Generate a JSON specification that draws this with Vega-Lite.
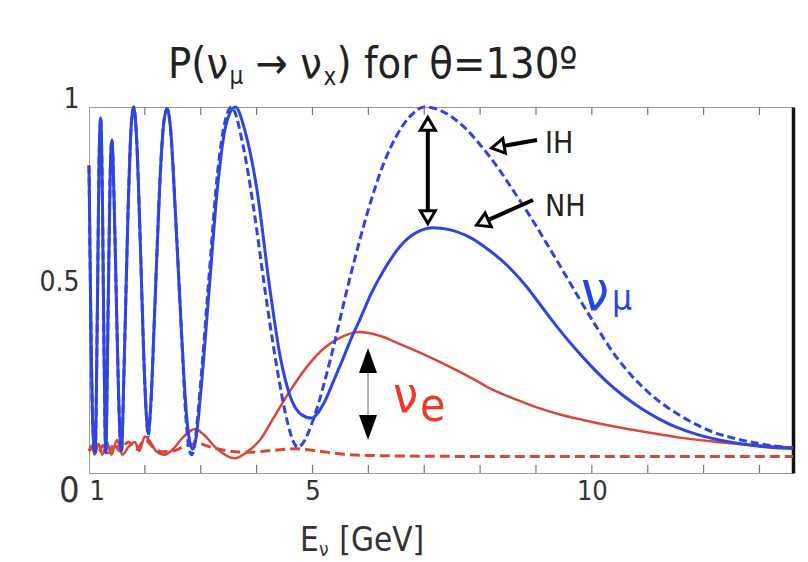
{
  "$schema": "https://vega.github.io/schema/vega-lite/v6.json",
  "width": 704,
  "height": 366,
  "autosize": {"type": "none"},
  "padding": {"left": 89, "top": 107, "right": 15, "bottom": 89},
  "background": "white",
  "config": {"view": {"stroke": null}, "font": "DejaVu Sans Condensed, DejaVu Sans", "text": {"font": "DejaVu Sans Condensed, DejaVu Sans"}},
  "resolve": {"axis": {"x": "independent", "y": "independent"}},
  "datasets": {
    "curves": [
      {"series":"IH_e","energy":1.0,"prob":0.06},{"series":"IH_e","energy":1.08,"prob":0.07},{"series":"IH_e","energy":1.16,"prob":0.055},{"series":"IH_e","energy":1.25,"prob":0.075},{"series":"IH_e","energy":1.35,"prob":0.055},{"series":"IH_e","energy":1.45,"prob":0.08},{"series":"IH_e","energy":1.55,"prob":0.06},{"series":"IH_e","energy":1.7,"prob":0.085},{"series":"IH_e","energy":1.85,"prob":0.065},{"series":"IH_e","energy":2.0,"prob":0.09},{"series":"IH_e","energy":2.15,"prob":0.07},{"series":"IH_e","energy":2.3,"prob":0.058},{"series":"IH_e","energy":2.5,"prob":0.06},{"series":"IH_e","energy":2.75,"prob":0.075},{"series":"IH_e","energy":2.95,"prob":0.08},{"series":"IH_e","energy":3.2,"prob":0.07},{"series":"IH_e","energy":3.5,"prob":0.06},{"series":"IH_e","energy":3.9,"prob":0.057},{"series":"IH_e","energy":4.3,"prob":0.062},{"series":"IH_e","energy":4.7,"prob":0.066},{"series":"IH_e","energy":5.1,"prob":0.06},{"series":"IH_e","energy":5.5,"prob":0.052},{"series":"IH_e","energy":6.0,"prob":0.048},{"series":"IH_e","energy":7.0,"prob":0.046},{"series":"IH_e","energy":8.5,"prob":0.045},{"series":"IH_e","energy":10.0,"prob":0.045},{"series":"IH_e","energy":12.0,"prob":0.045},{"series":"IH_e","energy":13.6,"prob":0.045},

      {"series":"NH_e","energy":1.0,"prob":0.06},{"series":"NH_e","energy":1.05,"prob":0.075},{"series":"NH_e","energy":1.1,"prob":0.05},{"series":"NH_e","energy":1.17,"prob":0.08},{"series":"NH_e","energy":1.24,"prob":0.05},{"series":"NH_e","energy":1.32,"prob":0.085},{"series":"NH_e","energy":1.4,"prob":0.05},{"series":"NH_e","energy":1.5,"prob":0.09},{"series":"NH_e","energy":1.6,"prob":0.05},{"series":"NH_e","energy":1.7,"prob":0.07},{"series":"NH_e","energy":1.82,"prob":0.085},{"series":"NH_e","energy":1.9,"prob":0.06},{"series":"NH_e","energy":2.0,"prob":0.1},{"series":"NH_e","energy":2.1,"prob":0.085},{"series":"NH_e","energy":2.2,"prob":0.06},{"series":"NH_e","energy":2.35,"prob":0.05},{"series":"NH_e","energy":2.5,"prob":0.065},{"series":"NH_e","energy":2.7,"prob":0.1},{"series":"NH_e","energy":2.9,"prob":0.12},{"series":"NH_e","energy":3.05,"prob":0.105},{"series":"NH_e","energy":3.3,"prob":0.065},{"series":"NH_e","energy":3.6,"prob":0.04},{"series":"NH_e","energy":3.85,"prob":0.06},{"series":"NH_e","energy":4.06,"prob":0.09},{"series":"NH_e","energy":4.3,"prob":0.15},{"series":"NH_e","energy":4.6,"prob":0.225},{"series":"NH_e","energy":4.9,"prob":0.29},{"series":"NH_e","energy":5.2,"prob":0.34},{"series":"NH_e","energy":5.5,"prob":0.37},{"series":"NH_e","energy":5.85,"prob":0.385},{"series":"NH_e","energy":6.2,"prob":0.375},{"series":"NH_e","energy":6.6,"prob":0.35},{"series":"NH_e","energy":7.05,"prob":0.32},{"series":"NH_e","energy":7.46,"prob":0.29},{"series":"NH_e","energy":7.9,"prob":0.255},{"series":"NH_e","energy":8.23,"prob":0.227},{"series":"NH_e","energy":8.66,"prob":0.2},{"series":"NH_e","energy":9.0,"prob":0.18},{"series":"NH_e","energy":9.43,"prob":0.16},{"series":"NH_e","energy":9.84,"prob":0.145},{"series":"NH_e","energy":10.4,"prob":0.127},{"series":"NH_e","energy":11.04,"prob":0.11},{"series":"NH_e","energy":11.6,"prob":0.096},{"series":"NH_e","energy":12.23,"prob":0.085},{"series":"NH_e","energy":12.9,"prob":0.076},{"series":"NH_e","energy":13.6,"prob":0.07},

      {"series":"IH_mu","energy":1.0,"prob":0.84},{"series":"IH_mu","energy":1.03,"prob":0.45},{"series":"IH_mu","energy":1.07,"prob":0.12},{"series":"IH_mu","energy":1.11,"prob":0.055},{"series":"IH_mu","energy":1.15,"prob":0.45},{"series":"IH_mu","energy":1.18,"prob":0.85},{"series":"IH_mu","energy":1.21,"prob":0.97},{"series":"IH_mu","energy":1.24,"prob":0.75},{"series":"IH_mu","energy":1.27,"prob":0.32},{"series":"IH_mu","energy":1.3,"prob":0.055},{"series":"IH_mu","energy":1.34,"prob":0.42},{"series":"IH_mu","energy":1.38,"prob":0.82},{"series":"IH_mu","energy":1.41,"prob":0.91},{"series":"IH_mu","energy":1.45,"prob":0.74},{"series":"IH_mu","energy":1.5,"prob":0.4},{"series":"IH_mu","energy":1.55,"prob":0.12},{"series":"IH_mu","energy":1.58,"prob":0.06},{"series":"IH_mu","energy":1.63,"prob":0.3},{"series":"IH_mu","energy":1.7,"prob":0.72},{"series":"IH_mu","energy":1.76,"prob":0.96},{"series":"IH_mu","energy":1.8,"prob":1.0},{"series":"IH_mu","energy":1.85,"prob":0.92},{"series":"IH_mu","energy":1.92,"prob":0.62},{"series":"IH_mu","energy":1.98,"prob":0.32},{"series":"IH_mu","energy":2.03,"prob":0.15},{"series":"IH_mu","energy":2.06,"prob":0.1},{"series":"IH_mu","energy":2.1,"prob":0.17},{"series":"IH_mu","energy":2.18,"prob":0.46},{"series":"IH_mu","energy":2.27,"prob":0.8},{"series":"IH_mu","energy":2.34,"prob":0.96},{"series":"IH_mu","energy":2.4,"prob":0.995},{"series":"IH_mu","energy":2.46,"prob":0.94},{"series":"IH_mu","energy":2.55,"prob":0.7},{"series":"IH_mu","energy":2.65,"prob":0.4},{"series":"IH_mu","energy":2.74,"prob":0.14},{"series":"IH_mu","energy":2.8,"prob":0.06},{"series":"IH_mu","energy":2.84,"prob":0.05},{"series":"IH_mu","energy":2.9,"prob":0.09},{"series":"IH_mu","energy":3.0,"prob":0.25},{"series":"IH_mu","energy":3.15,"prob":0.54},{"series":"IH_mu","energy":3.3,"prob":0.82},{"series":"IH_mu","energy":3.45,"prob":0.97},{"series":"IH_mu","energy":3.55,"prob":1.0},{"series":"IH_mu","energy":3.75,"prob":0.9},{"series":"IH_mu","energy":3.95,"prob":0.72},{"series":"IH_mu","energy":4.15,"prob":0.5},{"series":"IH_mu","energy":4.35,"prob":0.3},{"series":"IH_mu","energy":4.55,"prob":0.14},{"series":"IH_mu","energy":4.66,"prob":0.085},{"series":"IH_mu","energy":4.74,"prob":0.07},{"series":"IH_mu","energy":4.82,"prob":0.08},{"series":"IH_mu","energy":5.0,"prob":0.14},{"series":"IH_mu","energy":5.2,"prob":0.24},{"series":"IH_mu","energy":5.4,"prob":0.36},{"series":"IH_mu","energy":5.6,"prob":0.49},{"series":"IH_mu","energy":5.8,"prob":0.61},{"series":"IH_mu","energy":6.0,"prob":0.72},{"series":"IH_mu","energy":6.26,"prob":0.84},{"series":"IH_mu","energy":6.5,"prob":0.92},{"series":"IH_mu","energy":6.75,"prob":0.975},{"series":"IH_mu","energy":7.0,"prob":1.0},{"series":"IH_mu","energy":7.25,"prob":0.993},{"series":"IH_mu","energy":7.5,"prob":0.972},{"series":"IH_mu","energy":7.75,"prob":0.94},{"series":"IH_mu","energy":8.0,"prob":0.897},{"series":"IH_mu","energy":8.3,"prob":0.838},{"series":"IH_mu","energy":8.6,"prob":0.77},{"series":"IH_mu","energy":8.9,"prob":0.7},{"series":"IH_mu","energy":9.2,"prob":0.625},{"series":"IH_mu","energy":9.5,"prob":0.548},{"series":"IH_mu","energy":9.8,"prob":0.47},{"series":"IH_mu","energy":10.1,"prob":0.395},{"series":"IH_mu","energy":10.4,"prob":0.325},{"series":"IH_mu","energy":10.7,"prob":0.268},{"series":"IH_mu","energy":11.0,"prob":0.222},{"series":"IH_mu","energy":11.3,"prob":0.185},{"series":"IH_mu","energy":11.6,"prob":0.155},{"series":"IH_mu","energy":11.9,"prob":0.13},{"series":"IH_mu","energy":12.2,"prob":0.11},{"series":"IH_mu","energy":12.6,"prob":0.093},{"series":"IH_mu","energy":13.0,"prob":0.08},{"series":"IH_mu","energy":13.3,"prob":0.073},{"series":"IH_mu","energy":13.6,"prob":0.068},

      {"series":"NH_mu","energy":1.0,"prob":0.84},{"series":"NH_mu","energy":1.03,"prob":0.45},{"series":"NH_mu","energy":1.07,"prob":0.12},{"series":"NH_mu","energy":1.11,"prob":0.055},{"series":"NH_mu","energy":1.15,"prob":0.45},{"series":"NH_mu","energy":1.18,"prob":0.85},{"series":"NH_mu","energy":1.21,"prob":0.97},{"series":"NH_mu","energy":1.24,"prob":0.75},{"series":"NH_mu","energy":1.27,"prob":0.32},{"series":"NH_mu","energy":1.3,"prob":0.055},{"series":"NH_mu","energy":1.34,"prob":0.42},{"series":"NH_mu","energy":1.38,"prob":0.82},{"series":"NH_mu","energy":1.41,"prob":0.91},{"series":"NH_mu","energy":1.45,"prob":0.74},{"series":"NH_mu","energy":1.5,"prob":0.4},{"series":"NH_mu","energy":1.55,"prob":0.12},{"series":"NH_mu","energy":1.58,"prob":0.06},{"series":"NH_mu","energy":1.63,"prob":0.3},{"series":"NH_mu","energy":1.7,"prob":0.72},{"series":"NH_mu","energy":1.76,"prob":0.96},{"series":"NH_mu","energy":1.8,"prob":1.0},{"series":"NH_mu","energy":1.85,"prob":0.92},{"series":"NH_mu","energy":1.92,"prob":0.62},{"series":"NH_mu","energy":1.98,"prob":0.32},{"series":"NH_mu","energy":2.03,"prob":0.15},{"series":"NH_mu","energy":2.06,"prob":0.11},{"series":"NH_mu","energy":2.1,"prob":0.17},{"series":"NH_mu","energy":2.18,"prob":0.46},{"series":"NH_mu","energy":2.27,"prob":0.8},{"series":"NH_mu","energy":2.34,"prob":0.96},{"series":"NH_mu","energy":2.4,"prob":0.995},{"series":"NH_mu","energy":2.46,"prob":0.94},{"series":"NH_mu","energy":2.55,"prob":0.7},{"series":"NH_mu","energy":2.65,"prob":0.4},{"series":"NH_mu","energy":2.75,"prob":0.15},{"series":"NH_mu","energy":2.82,"prob":0.075},{"series":"NH_mu","energy":2.86,"prob":0.065},{"series":"NH_mu","energy":2.92,"prob":0.1},{"series":"NH_mu","energy":3.0,"prob":0.22},{"series":"NH_mu","energy":3.15,"prob":0.5},{"series":"NH_mu","energy":3.3,"prob":0.78},{"series":"NH_mu","energy":3.45,"prob":0.95},{"series":"NH_mu","energy":3.62,"prob":1.0},{"series":"NH_mu","energy":3.8,"prob":0.93},{"series":"NH_mu","energy":4.0,"prob":0.78},{"series":"NH_mu","energy":4.24,"prob":0.5},{"series":"NH_mu","energy":4.42,"prob":0.32},{"series":"NH_mu","energy":4.6,"prob":0.21},{"series":"NH_mu","energy":4.8,"prob":0.16},{"series":"NH_mu","energy":4.98,"prob":0.15},{"series":"NH_mu","energy":5.2,"prob":0.19},{"series":"NH_mu","energy":5.4,"prob":0.26},{"series":"NH_mu","energy":5.54,"prob":0.31},{"series":"NH_mu","energy":5.7,"prob":0.37},{"series":"NH_mu","energy":5.85,"prob":0.42},{"series":"NH_mu","energy":6.05,"prob":0.49},{"series":"NH_mu","energy":6.3,"prob":0.56},{"series":"NH_mu","energy":6.6,"prob":0.625},{"series":"NH_mu","energy":6.9,"prob":0.66},{"series":"NH_mu","energy":7.15,"prob":0.67},{"series":"NH_mu","energy":7.45,"prob":0.665},{"series":"NH_mu","energy":7.8,"prob":0.645},{"series":"NH_mu","energy":8.15,"prob":0.61},{"series":"NH_mu","energy":8.5,"prob":0.565},{"series":"NH_mu","energy":8.8,"prob":0.515},{"series":"NH_mu","energy":9.1,"prob":0.455},{"series":"NH_mu","energy":9.4,"prob":0.395},{"series":"NH_mu","energy":9.7,"prob":0.34},{"series":"NH_mu","energy":10.0,"prob":0.29},{"series":"NH_mu","energy":10.3,"prob":0.245},{"series":"NH_mu","energy":10.6,"prob":0.207},{"series":"NH_mu","energy":10.9,"prob":0.175},{"series":"NH_mu","energy":11.2,"prob":0.148},{"series":"NH_mu","energy":11.5,"prob":0.126},{"series":"NH_mu","energy":11.85,"prob":0.107},{"series":"NH_mu","energy":12.2,"prob":0.093},{"series":"NH_mu","energy":12.6,"prob":0.081},{"series":"NH_mu","energy":13.0,"prob":0.073},{"series":"NH_mu","energy":13.3,"prob":0.069},{"series":"NH_mu","energy":13.6,"prob":0.067}
    ]
  },
  "layer": [
    {
      "data": {"name": "curves"},
      "transform": [{"filter": "datum.series === 'IH_e'"}],
      "mark": {"type": "line", "color": "#d6483a", "strokeWidth": 3, "strokeDash": [10, 5], "interpolate": "monotone"},
      "encoding": {
        "x": {"field": "energy", "type": "quantitative", "scale": {"domain": [1, 13.6], "nice": false, "zero": false}, "axis": null},
        "y": {"field": "prob", "type": "quantitative", "scale": {"domain": [0, 1], "nice": false}, "axis": null}
      }
    },
    {
      "data": {"name": "curves"},
      "transform": [{"filter": "datum.series === 'NH_e'"}],
      "mark": {"type": "line", "color": "#d6483a", "strokeWidth": 2.5, "interpolate": "monotone"},
      "encoding": {
        "x": {"field": "energy", "type": "quantitative", "scale": {"domain": [1, 13.6], "nice": false, "zero": false}, "axis": null},
        "y": {"field": "prob", "type": "quantitative", "scale": {"domain": [0, 1], "nice": false}, "axis": null}
      }
    },
    {
      "data": {"name": "curves"},
      "transform": [{"filter": "datum.series === 'IH_mu'"}],
      "mark": {"type": "line", "color": "#2f45e0", "strokeWidth": 3, "strokeDash": [8, 4], "interpolate": "monotone"},
      "encoding": {
        "x": {"field": "energy", "type": "quantitative", "scale": {"domain": [1, 13.6], "nice": false, "zero": false},
          "axis": {"orient": "top", "values": [1, 13], "ticks": false, "labels": false, "title": null, "grid": false, "domainColor": "#999"}},
        "y": {"field": "prob", "type": "quantitative", "scale": {"domain": [0, 1], "nice": false},
          "axis": {"orient": "right", "ticks": false, "labels": false, "title": null, "grid": false, "domainColor": "#111", "domainWidth": 3.5}}
      }
    },
    {
      "data": {"name": "curves"},
      "transform": [{"filter": "datum.series === 'NH_mu'"}],
      "mark": {"type": "line", "color": "#2f45e0", "strokeWidth": 3, "interpolate": "monotone"},
      "encoding": {
        "x": {"field": "energy", "type": "quantitative", "scale": {"domain": [1, 13.6], "nice": false, "zero": false},
          "axis": {"orient": "bottom", "values": [1, 5, 10], "ticks": false, "title": null, "grid": false, "domainColor": "#999", "labelFontSize": 27, "labelColor": "#333", "labelPadding": 5, "labelFont": "DejaVu Sans Condensed, DejaVu Sans"}},
        "y": {"field": "prob", "type": "quantitative", "scale": {"domain": [0, 1], "nice": false},
          "axis": {"orient": "left", "values": [0, 0.5, 1], "format": "~g", "ticks": false, "title": null, "grid": false, "domainColor": "#999", "labelColor": "#333", "labelPadding": 10, "labelFont": "DejaVu Sans Condensed, DejaVu Sans",
            "labelFontSize": {"condition": {"test": "datum.value === 0", "value": 36}, "value": 28},
            "labelBaseline": {"condition": {"test": "datum.value === 0", "value": "top"}, "value": "alphabetic"}}}
      }
    },
    {
      "data": {"values": [
        {"gev": 2, "lo": 0, "hi": 0.022}, {"gev": 3, "lo": 0, "hi": 0.022}, {"gev": 4, "lo": 0, "hi": 0.022}, {"gev": 5, "lo": 0, "hi": 0.022}, {"gev": 6, "lo": 0, "hi": 0.022}, {"gev": 7, "lo": 0, "hi": 0.022}, {"gev": 8, "lo": 0, "hi": 0.022}, {"gev": 9, "lo": 0, "hi": 0.022}, {"gev": 10, "lo": 0, "hi": 0.022}, {"gev": 11, "lo": 0, "hi": 0.022}, {"gev": 12, "lo": 0, "hi": 0.022}, {"gev": 13, "lo": 0, "hi": 0.022},
        {"gev": 2, "lo": 0.978, "hi": 1}, {"gev": 3, "lo": 0.978, "hi": 1}, {"gev": 4, "lo": 0.978, "hi": 1}, {"gev": 5, "lo": 0.978, "hi": 1}, {"gev": 6, "lo": 0.978, "hi": 1}, {"gev": 7, "lo": 0.978, "hi": 1}, {"gev": 8, "lo": 0.978, "hi": 1}, {"gev": 9, "lo": 0.978, "hi": 1}, {"gev": 10, "lo": 0.978, "hi": 1}, {"gev": 11, "lo": 0.978, "hi": 1}, {"gev": 12, "lo": 0.978, "hi": 1}, {"gev": 13, "lo": 0.978, "hi": 1}
      ]},
      "mark": {"type": "rule", "color": "#777", "strokeWidth": 1.2},
      "encoding": {
        "x": {"field": "gev", "type": "quantitative", "scale": {"domain": [1, 13.6], "nice": false, "zero": false}, "axis": null},
        "y": {"field": "lo", "type": "quantitative", "scale": {"domain": [0, 1], "nice": false}, "axis": null},
        "y2": {"field": "hi"}
      }
    },
    {
      "data": {"values": [{"e1": 7.064, "p1": 0.937, "p2": 0.716}]},
      "mark": {"type": "rule", "color": "black", "strokeWidth": 4},
      "encoding": {
        "x": {"field": "e1", "type": "quantitative", "scale": {"domain": [1, 13.6], "nice": false, "zero": false}, "axis": null},
        "y": {"field": "p1", "type": "quantitative", "scale": {"domain": [0, 1], "nice": false}, "axis": null},
        "y2": {"field": "p2"}
      }
    },
    {
      "data": {"values": [{"e1": 9.018, "p1": 0.9098, "e2": 8.422, "p2": 0.8937}, {"e1": 8.947, "p1": 0.7459, "e2": 8.139, "p2": 0.691}]},
      "mark": {"type": "rule", "color": "black", "strokeWidth": 4},
      "encoding": {
        "x": {"field": "e1", "type": "quantitative", "scale": {"domain": [1, 13.6], "nice": false, "zero": false}, "axis": null},
        "y": {"field": "p1", "type": "quantitative", "scale": {"domain": [0, 1], "nice": false}, "axis": null},
        "x2": {"field": "e2"},
        "y2": {"field": "p2"}
      }
    },
    {
      "data": {"values": [{"e": 7.064, "p": 0.951}]},
      "mark": {"type": "point", "shape": "M0,-1L1,0.7L-1,0.7Z", "size": 225, "filled": true, "fill": "white", "stroke": "black", "strokeWidth": 3, "opacity": 1},
      "encoding": {
        "x": {"field": "e", "type": "quantitative", "scale": {"domain": [1, 13.6], "nice": false, "zero": false}, "axis": null},
        "y": {"field": "p", "type": "quantitative", "scale": {"domain": [0, 1], "nice": false}, "axis": null}
      }
    },
    {
      "data": {"values": [{"e": 7.064, "p": 0.702}]},
      "mark": {"type": "point", "shape": "M0,1L1,-0.7L-1,-0.7Z", "size": 225, "filled": true, "fill": "white", "stroke": "black", "strokeWidth": 3, "opacity": 1},
      "encoding": {
        "x": {"field": "e", "type": "quantitative", "scale": {"domain": [1, 13.6], "nice": false, "zero": false}, "axis": null},
        "y": {"field": "p", "type": "quantitative", "scale": {"domain": [0, 1], "nice": false}, "axis": null}
      }
    },
    {
      "data": {"values": [{"e": 8.337, "p": 0.8913}]},
      "mark": {"type": "point", "shape": "M0,-1L1,0.7L-1,0.7Z", "size": 225, "angle": 260, "filled": true, "fill": "white", "stroke": "black", "strokeWidth": 3, "opacity": 1},
      "encoding": {
        "x": {"field": "e", "type": "quantitative", "scale": {"domain": [1, 13.6], "nice": false, "zero": false}, "axis": null},
        "y": {"field": "p", "type": "quantitative", "scale": {"domain": [0, 1], "nice": false}, "axis": null}
      }
    },
    {
      "data": {"values": [{"e": 8.059, "p": 0.6855}]},
      "mark": {"type": "point", "shape": "M0,-1L1,0.7L-1,0.7Z", "size": 225, "angle": 246, "filled": true, "fill": "white", "stroke": "black", "strokeWidth": 3, "opacity": 1},
      "encoding": {
        "x": {"field": "e", "type": "quantitative", "scale": {"domain": [1, 13.6], "nice": false, "zero": false}, "axis": null},
        "y": {"field": "p", "type": "quantitative", "scale": {"domain": [0, 1], "nice": false}, "axis": null}
      }
    },
    {
      "data": {"values": [{"e1": 5.994, "p1": 0.3, "p2": 0.13}]},
      "mark": {"type": "rule", "color": "#999", "strokeWidth": 1.5},
      "encoding": {
        "x": {"field": "e1", "type": "quantitative", "scale": {"domain": [1, 13.6], "nice": false, "zero": false}, "axis": null},
        "y": {"field": "p1", "type": "quantitative", "scale": {"domain": [0, 1], "nice": false}, "axis": null},
        "y2": {"field": "p2"}
      }
    },
    {
      "data": {"values": [{"e": 5.994, "p": 0.3074}]},
      "mark": {"type": "point", "shape": "M0,-1L0.72,1L-0.72,1Z", "size": 625, "filled": true, "color": "black", "opacity": 1},
      "encoding": {
        "x": {"field": "e", "type": "quantitative", "scale": {"domain": [1, 13.6], "nice": false, "zero": false}, "axis": null},
        "y": {"field": "p", "type": "quantitative", "scale": {"domain": [0, 1], "nice": false}, "axis": null}
      }
    },
    {
      "data": {"values": [{"e": 5.994, "p": 0.1243}]},
      "mark": {"type": "point", "shape": "M0,1L0.72,-1L-0.72,-1Z", "size": 625, "filled": true, "color": "black", "opacity": 1},
      "encoding": {
        "x": {"field": "e", "type": "quantitative", "scale": {"domain": [1, 13.6], "nice": false, "zero": false}, "axis": null},
        "y": {"field": "p", "type": "quantitative", "scale": {"domain": [0, 1], "nice": false}, "axis": null}
      }
    },
    {
      "data": {"values": [{"t": "P(ν", "e": 2.414, "p": 1.0792}, {"t": "→ ν", "e": 3.98, "p": 1.0792}, {"t": ") for θ=130º", "e": 5.43, "p": 1.0792}]},
      "mark": {"type": "text", "align": "left", "baseline": "alphabetic", "fontSize": 43, "color": "#222"},
      "encoding": {
        "x": {"field": "e", "type": "quantitative", "scale": {"domain": [1, 13.6], "nice": false, "zero": false}, "axis": null},
        "y": {"field": "p", "type": "quantitative", "scale": {"domain": [0, 1], "nice": false}, "axis": null},
        "text": {"field": "t"}
      }
    },
    {
      "data": {"values": [{"t": "μ", "e": 3.515, "p": 1.0628}, {"t": "x", "e": 5.197, "p": 1.06}]},
      "mark": {"type": "text", "align": "left", "baseline": "alphabetic", "fontSize": 24, "color": "#222"},
      "encoding": {
        "x": {"field": "e", "type": "quantitative", "scale": {"domain": [1, 13.6], "nice": false, "zero": false}, "axis": null},
        "y": {"field": "p", "type": "quantitative", "scale": {"domain": [0, 1], "nice": false}, "axis": null},
        "text": {"field": "t"}
      }
    },
    {
      "data": {"values": [{"t": "E", "e": 4.777, "p": -0.2132}, {"t": "[GeV]", "e": 5.48, "p": -0.2132}]},
      "mark": {"type": "text", "align": "left", "baseline": "alphabetic", "fontSize": 33, "color": "#333"},
      "encoding": {
        "x": {"field": "e", "type": "quantitative", "scale": {"domain": [1, 13.6], "nice": false, "zero": false}, "axis": null},
        "y": {"field": "p", "type": "quantitative", "scale": {"domain": [0, 1], "nice": false}, "axis": null},
        "text": {"field": "t"}
      }
    },
    {
      "data": {"values": [{"t": "ν", "e": 5.115, "p": -0.2268}]},
      "mark": {"type": "text", "align": "left", "baseline": "alphabetic", "fontSize": 19, "color": "#333"},
      "encoding": {
        "x": {"field": "e", "type": "quantitative", "scale": {"domain": [1, 13.6], "nice": false, "zero": false}, "axis": null},
        "y": {"field": "p", "type": "quantitative", "scale": {"domain": [0, 1], "nice": false}, "axis": null},
        "text": {"field": "t"}
      }
    },
    {
      "data": {"values": [{"t": "IH", "e": 9.162, "p": 0.875}, {"t": "NH", "e": 9.162, "p": 0.702}]},
      "mark": {"type": "text", "align": "left", "baseline": "alphabetic", "fontSize": 30, "color": "#222"},
      "encoding": {
        "x": {"field": "e", "type": "quantitative", "scale": {"domain": [1, 13.6], "nice": false, "zero": false}, "axis": null},
        "y": {"field": "p", "type": "quantitative", "scale": {"domain": [0, 1], "nice": false}, "axis": null},
        "text": {"field": "t"}
      }
    },
    {
      "data": {"values": [{"t": "ν", "e": 9.806, "p": 0.4454}]},
      "mark": {"type": "text", "align": "left", "baseline": "alphabetic", "fontSize": 56, "color": "#2445ee"},
      "encoding": {
        "x": {"field": "e", "type": "quantitative", "scale": {"domain": [1, 13.6], "nice": false, "zero": false}, "axis": null},
        "y": {"field": "p", "type": "quantitative", "scale": {"domain": [0, 1], "nice": false}, "axis": null},
        "text": {"field": "t"}
      }
    },
    {
      "data": {"values": [{"t": "μ", "e": 10.36, "p": 0.4454}]},
      "mark": {"type": "text", "align": "left", "baseline": "alphabetic", "fontSize": 35, "color": "#2445ee"},
      "encoding": {
        "x": {"field": "e", "type": "quantitative", "scale": {"domain": [1, 13.6], "nice": false, "zero": false}, "axis": null},
        "y": {"field": "p", "type": "quantitative", "scale": {"domain": [0, 1], "nice": false}, "axis": null},
        "text": {"field": "t"}
      }
    },
    {
      "data": {"values": [{"t": "ν", "e": 6.441, "p": 0.1667}]},
      "mark": {"type": "text", "align": "left", "baseline": "alphabetic", "fontSize": 50, "color": "#ea3a2a"},
      "encoding": {
        "x": {"field": "e", "type": "quantitative", "scale": {"domain": [1, 13.6], "nice": false, "zero": false}, "axis": null},
        "y": {"field": "p", "type": "quantitative", "scale": {"domain": [0, 1], "nice": false}, "axis": null},
        "text": {"field": "t"}
      }
    },
    {
      "data": {"values": [{"t": "e", "e": 6.924, "p": 0.1421}]},
      "mark": {"type": "text", "align": "left", "baseline": "alphabetic", "fontSize": 46, "color": "#ea3a2a"},
      "encoding": {
        "x": {"field": "e", "type": "quantitative", "scale": {"domain": [1, 13.6], "nice": false, "zero": false}, "axis": null},
        "y": {"field": "p", "type": "quantitative", "scale": {"domain": [0, 1], "nice": false}, "axis": null},
        "text": {"field": "t"}
      }
    }
  ]
}
